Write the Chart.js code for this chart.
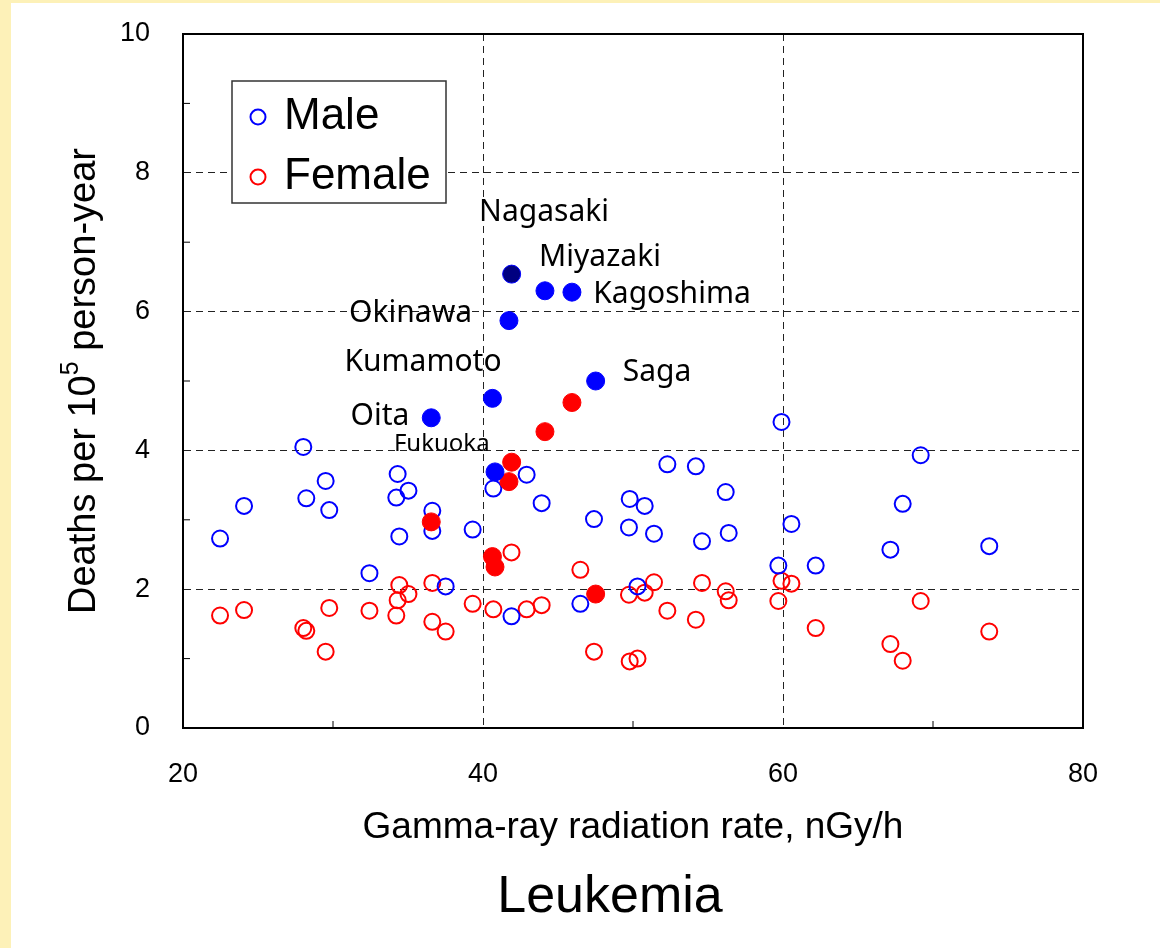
<!DOCTYPE html>
<html>
<head>
<meta charset="utf-8">
<script src="https://cdn.jsdelivr.net/npm/chart.js@4.4.1/dist/chart.umd.min.js"></script>
<style>
  html, body { margin: 0; padding: 0; background: #fdf1b8; }
  #wrap { position: absolute; left: 11px; top: 3px; width: 1149px; height: 945px; background: #fff; }
</style>
</head>
<body>
<div id="wrap"><canvas id="chartCanvas"></canvas></div>
<script>
// Gamma-ray rate (nGy/h) and leukemia deaths per 10^5 person-year, by prefecture
const openRate = [22.47, 24.07, 28.02, 28.22, 29.51, 29.75, 32.43, 34.22, 34.31, 34.42,
    35.03, 36.62, 36.62, 37.51, 39.31, 40.69, 41.90, 42.91, 43.91, 46.49,
    47.40, 49.78, 49.73, 50.30, 50.78, 51.40, 52.29, 54.19, 54.60, 56.18,
    56.38, 59.69, 59.90, 60.56, 62.18, 67.16, 67.98, 69.18, 73.75];
const openMale = [2.73, 3.20, 4.05, 3.31, 3.56, 3.14, 2.23, 3.32, 3.66, 2.76,
    3.42, 3.13, 2.84, 2.04, 2.86, 3.45, 1.61, 3.65, 3.24, 1.79,
    3.01, 3.30, 2.89, 2.04, 3.20, 2.80, 3.80, 3.77, 2.69, 3.40,
    2.81, 2.34, 4.41, 2.94, 2.34, 2.57, 3.23, 3.93, 2.62];
const openFemale = [1.62, 1.70, 1.44, 1.40, 1.10, 1.73, 1.69, 1.62, 1.84, 2.06,
    1.93, 2.09, 1.53, 1.39, 1.79, 1.71, 2.53, 1.71, 1.77, 2.28,
    1.10, 0.96, 1.92, 1.00, 1.95, 2.10, 1.69, 1.56, 2.09, 1.97,
    1.84, 1.83, 2.12, 2.08, 1.44, 1.21, 0.97, 1.83, 1.39];

// Highlighted (Kyushu/Okinawa) prefectures
const prefNames = ['Nagasaki', 'Miyazaki', 'Kagoshima', 'Okinawa', 'Kumamoto', 'Oita', 'Saga', 'Fukuoka'];
const prefRate = [41.91, 44.13, 45.93, 41.73, 40.63, 36.55, 47.51, 40.80];
const prefMale = [6.54, 6.30, 6.28, 5.87, 4.75, 4.47, 5.00, 3.69];
const prefFemale = [3.83, 4.27, 4.69, 3.55, 2.47, 2.97, 1.93, 2.32];

// where each prefecture name sits (data units)
const nameX = [44.07, 47.80, 52.60, 35.17, 36.00, 33.13, 51.60, 37.25];
const nameY = [7.43, 6.78, 6.24, 5.98, 5.27, 4.49, 5.13, 4.09];

const xTicks = [20, 40, 60, 80];
const yTicks = [0, 2, 4, 6, 8, 10];

const BLUE = '#0000ff';
const RED = '#ff0000';
const FONT = '"Liberation Sans", Arial, sans-serif';

function toPoints(xs, ys) {
    return xs.map((x, i) => ({ x: x, y: ys[i] }));
}

/**
 * Frame, inner minor ticks, legend box, prefecture names, titles
 */
const decorations = {
    id: 'decorations',
    afterDraw(chart) {
        const ctx = chart.ctx;
        const area = chart.chartArea;
        const xs = chart.scales.x;
        const ys = chart.scales.y;
        ctx.save();

        // top + right frame
        ctx.strokeStyle = '#000';
        ctx.lineWidth = 2;
        ctx.beginPath();
        ctx.moveTo(area.left, area.top);
        ctx.lineTo(area.right, area.top);
        ctx.lineTo(area.right, area.bottom);
        ctx.stroke();

        // minor ticks pointing inward
        ctx.lineWidth = 1;
        ys.ticks.forEach(t => {
            if (t.value % 2 !== 0) {
                const py = ys.getPixelForValue(t.value);
                ctx.beginPath();
                ctx.moveTo(area.left, py);
                ctx.lineTo(area.left + 7, py);
                ctx.stroke();
            }
        });
        xs.ticks.forEach(t => {
            if (t.value % 20 !== 0) {
                const px = xs.getPixelForValue(t.value);
                ctx.beginPath();
                ctx.moveTo(px, area.bottom);
                ctx.lineTo(px, area.bottom - 7);
                ctx.stroke();
            }
        });

        // legend
        const lx = area.left + 49, ly = area.top + 47;
        ctx.fillStyle = '#fff';
        ctx.fillRect(lx, ly, 214, 122);
        ctx.strokeStyle = '#333';
        ctx.lineWidth = 1.5;
        ctx.strokeRect(lx, ly, 214, 122);
        [['Male', BLUE, 36], ['Female', RED, 96]].forEach(([label, col, dy]) => {
            ctx.beginPath();
            ctx.arc(lx + 26, ly + dy, 7.5, 0, Math.PI * 2);
            ctx.strokeStyle = col;
            ctx.lineWidth = 2;
            ctx.stroke();
            ctx.fillStyle = '#000';
            ctx.font = '44px ' + FONT;
            ctx.textBaseline = 'middle';
            ctx.textAlign = 'left';
            ctx.fillText(label, lx + 52, ly + dy);
        });

        // prefecture names
        ctx.fillStyle = '#000';
        ctx.textAlign = 'center';
        ctx.textBaseline = 'middle';
        prefNames.forEach((name, i) => {
            ctx.font = (name === 'Fukuoka' ? '24px' : '30px') + ' "Noto Sans", sans-serif';
            ctx.fillText(name, xs.getPixelForValue(nameX[i]), ys.getPixelForValue(nameY[i]));
        });

        // chart title under the x axis title
        ctx.font = '52px ' + FONT;
        ctx.fillText('Leukemia', (area.left + area.right) / 2 - 23, 895);

        // y axis title with superscript
        ctx.translate(74, (area.top + area.bottom) / 2);
        ctx.rotate(-Math.PI / 2);
        const big = '38px ' + FONT;
        const sup = '25px ' + FONT;
        const parts = [['Deaths per 10', big, 0], ['5', sup, -14], [' person-year', big, 0]];
        let total = 0;
        parts.forEach(p => { ctx.font = p[1]; total += ctx.measureText(p[0]).width; });
        let cx = -total / 2;
        ctx.textAlign = 'left';
        ctx.textBaseline = 'middle';
        parts.forEach(p => {
            ctx.font = p[1];
            ctx.fillText(p[0], cx, p[2]);
            cx += ctx.measureText(p[0]).width;
        });
        ctx.restore();
    }
};

const ctx = document.getElementById('chartCanvas').getContext('2d');

new Chart(ctx, {
    type: 'scatter',
    data: {
        datasets: [
            {
                label: 'Male (highlighted)',
                data: toPoints(prefRate, prefMale),
                backgroundColor: prefNames.map((n, i) => i === 0 ? '#000080' : BLUE),
                borderColor: BLUE,
                pointRadius: 9,
                borderWidth: 1
            },
            {
                label: 'Female (highlighted)',
                data: toPoints(prefRate, prefFemale),
                backgroundColor: RED,
                borderColor: RED,
                pointRadius: 9,
                borderWidth: 1
            },
            {
                label: 'Male',
                data: toPoints(openRate, openMale),
                backgroundColor: 'rgba(0,0,0,0)',
                borderColor: BLUE,
                pointRadius: 8,
                borderWidth: 2
            },
            {
                label: 'Female',
                data: toPoints(openRate, openFemale),
                backgroundColor: 'rgba(0,0,0,0)',
                borderColor: RED,
                pointRadius: 8,
                borderWidth: 2
            }
        ]
    },
    options: {
        responsive: true,
        maintainAspectRatio: false,
        animation: false,
        layout: { padding: { left: 0, top: 31, right: 77, bottom: 82 } },
        plugins: {
            legend: { display: false },
            tooltip: { enabled: false },
            title: { display: false }
        },
        scales: {
            x: {
                type: 'linear',
                min: 20,
                max: 80,
                afterFit: function(axis) { axis.height = 138; },
                ticks: {
                    stepSize: 10,
                    autoSkip: false,
                    padding: 0,
                    color: '#000',
                    font: { family: FONT, size: 27 },
                    callback: function(value) {
                        return xTicks.includes(value) ? String(value) : '';
                    }
                },
                grid: {
                    drawTicks: true,
                    tickLength: 30,
                    tickColor: 'rgba(0,0,0,0)',
                    lineWidth: 1,
                    color: function(c) {
                        const v = c.tick && c.tick.value;
                        return (v === 40 || v === 60) ? '#222' : 'rgba(0,0,0,0)';
                    }
                },
                border: { display: true, color: '#000', width: 2, dash: [7, 5] },
                title: {
                    display: true,
                    text: 'Gamma-ray radiation rate, nGy/h',
                    color: '#000',
                    font: { family: FONT, size: 37 },
                    padding: { top: 0, bottom: 16 }
                }
            },
            y: {
                type: 'linear',
                min: 0,
                max: 10,
                afterFit: function(axis) { axis.width = 172; },
                ticks: {
                    stepSize: 1,
                    autoSkip: false,
                    padding: 0,
                    color: '#000',
                    font: { family: FONT, size: 27 },
                    callback: function(value) {
                        return yTicks.includes(value) ? String(value) : '';
                    }
                },
                grid: {
                    drawTicks: true,
                    tickLength: 33,
                    tickColor: 'rgba(0,0,0,0)',
                    lineWidth: 1,
                    color: function(c) {
                        const v = c.tick && c.tick.value;
                        return (v > 0 && v < 10 && v % 2 === 0) ? '#222' : 'rgba(0,0,0,0)';
                    }
                },
                border: { display: true, color: '#000', width: 2, dash: [7, 5] },
                title: { display: false }
            }
        }
    },
    plugins: [decorations]
});
</script>
</body>
</html>
